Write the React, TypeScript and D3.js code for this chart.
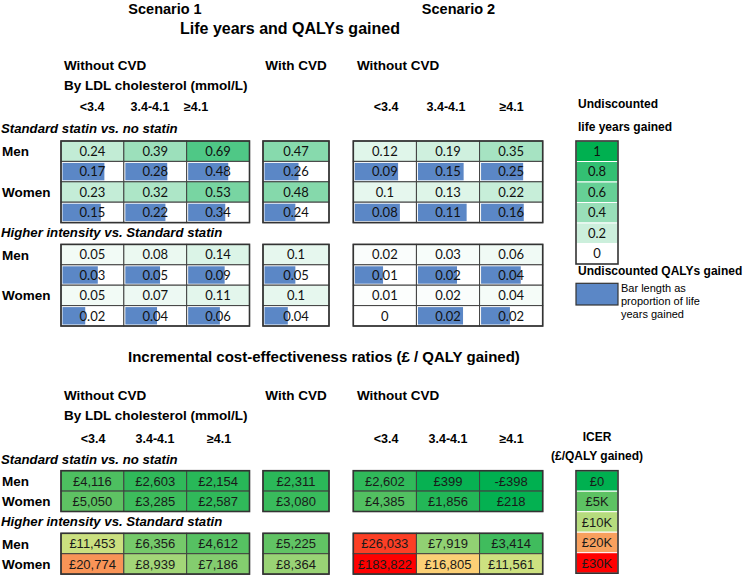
import React from "react";
import * as d3 from "d3";

// ---------- Data ----------
const ldlBands = ["<3.4", "3.4-4.1", "≥4.1"];
const sexes = ["Men", "Women"];
const comparisons = ["Standard statin vs. no statin", "Higher intensity vs. Standard statin"];

// Undiscounted life years gained (rows: Men, Women; columns: LDL bands)
const lyS1Standard = [[0.24, 0.39, 0.69], [0.23, 0.32, 0.53]];
const qalyS1Standard = [[0.17, 0.28, 0.48], [0.15, 0.22, 0.34]];
const barS1Standard = [[0.70, 0.70, 0.67], [0.64, 0.67, 0.62]];
const lyS1Higher = [[0.05, 0.08, 0.14], [0.05, 0.07, 0.11]];
const qalyS1Higher = [[0.03, 0.05, 0.09], [0.02, 0.04, 0.06]];
const barS1Higher = [[0.59, 0.58, 0.61], [0.38, 0.53, 0.53]];

const lyCvdStandard = [[0.47], [0.48]];
const qalyCvdStandard = [[0.26], [0.24]];
const barCvdStandard = [[0.54], [0.49]];
const lyCvdHigher = [[0.1], [0.1]];
const qalyCvdHigher = [[0.05], [0.04]];
const barCvdHigher = [[0.49], [0.37]];

const lyS2Standard = [[0.12, 0.19, 0.35], [0.1, 0.13, 0.22]];
const qalyS2Standard = [[0.09, 0.15, 0.25], [0.08, 0.11, 0.16]];
const barS2Standard = [[0.72, 0.76, 0.70], [0.75, 0.81, 0.71]];
const lyS2Higher = [[0.02, 0.03, 0.06], [0.01, 0.02, 0.04]];
const qalyS2Higher = [[0.01, 0.02, 0.04], [0, 0.02, 0.02]];
const barS2Higher = [[0.47, 0.65, 0.66], [0, 0.75, 0.48]];

// ICER (£ / QALY gained)
const icerS1Standard = [[4116, 2603, 2154], [5050, 3285, 2587]];
const icerS1Higher = [[11453, 6356, 4612], [20774, 8939, 7186]];
const icerCvdStandard = [[2311], [3080]];
const icerCvdHigher = [[5225], [8364]];
const icerS2Standard = [[2602, 399, -398], [4385, 1856, 218]];
const icerS2Higher = [[26033, 7919, 3414], [183822, 16805, 11561]];

const lyLegendValues = [1, 0.8, 0.6, 0.4, 0.2, 0];
const icerLegendValues = [0, 5000, 10000, 20000, 30000];
const icerLegendLabels = ["£0", "£5K", "£10K", "£20K", "£30K"];

// ---------- Scales / styles ----------
const icerStops = [0, 5000, 10000, 15000, 20000, 30000];
const icerColors = ["#00b050", "#5dc263", "#b6dc7e", "#ffeb84", "#f8a05e", "#ff0000"];
const icerColor = d3.scaleLinear<string>().domain(icerStops).range(icerColors).clamp(true);
const lyColor = d3.scaleLinear<string>().domain([0, 1]).range(["#ffffff", "#00b050"]).clamp(true);
const BAR = "#5b87c6";
const GRID = "#404040";
const SANS = "'Liberation Sans', Arial, sans-serif";
const NUM = "Lato, 'Open Sans', sans-serif";

const fmtIcer = (v: number) => (v < 0 ? "-£" : "£") + d3.format(",")(Math.abs(v));

const ROW = 20.4;
const groups = [
  { x: 61, w: 188.5, n: 3 },
  { x: 263, w: 66, n: 1 },
  { x: 353.3, w: 189.4, n: 3 },
];

function LYBlock({ g, top, ly, qaly, bar }: any) {
  const xs = d3.scaleBand<number>().domain(d3.range(g.n)).range([g.x, g.x + g.w]);
  const ys = d3.scaleBand<number>().domain(d3.range(4)).range([top, top + 4 * ROW]);
  const cw = xs.bandwidth();
  const rh = ys.bandwidth();
  const bw = d3.scaleLinear().domain([0, 1]).range([0, cw - 3]);
  const cells: any[] = [];
  sexes.forEach((_, si) => {
    d3.range(g.n).forEach((ci) => {
      const x = xs(ci)!;
      const y1 = ys(si * 2)!;
      const y2 = ys(si * 2 + 1)!;
      cells.push(
        <g key={`${si}-${ci}`}>
          <rect x={x} y={y1} width={cw} height={rh} fill={lyColor(ly[si][ci])} stroke={GRID} strokeWidth={1} />
          <text x={x + cw / 2} y={y1 + rh / 2 + 4.7} textAnchor="middle" fontFamily={NUM} fontSize={13} fill="#111">
            {String(ly[si][ci])}
          </text>
          <rect x={x} y={y2} width={cw} height={rh} fill="#fff" stroke={GRID} strokeWidth={1} />
          <rect x={x + 1.5} y={y2 + 1.5} width={bw(bar[si][ci])} height={rh - 3} fill={BAR} />
          <text x={x + cw / 2} y={y2 + rh / 2 + 4.7} textAnchor="middle" fontFamily={NUM} fontSize={13} fill="#111">
            {String(qaly[si][ci])}
          </text>
        </g>
      );
    });
  });
  return (
    <g>
      {cells}
      <rect x={g.x} y={top} width={g.w} height={4 * ROW} fill="none" stroke="#333" strokeWidth={1.6} />
    </g>
  );
}

function IcerBlock({ g, top, vals }: any) {
  const xs = d3.scaleBand<number>().domain(d3.range(g.n)).range([g.x, g.x + g.w]);
  const ys = d3.scaleBand<number>().domain(d3.range(2)).range([top, top + 2 * ROW]);
  const cw = xs.bandwidth();
  const rh = ys.bandwidth();
  return (
    <g>
      {sexes.map((_, si) =>
        d3.range(g.n).map((ci) => (
          <g key={`${si}-${ci}`}>
            <rect x={xs(ci)} y={ys(si)} width={cw} height={rh} fill={icerColor(vals[si][ci])} stroke={GRID} strokeWidth={1} />
            <text x={xs(ci)! + cw / 2} y={ys(si)! + rh / 2 + 4.6} textAnchor="middle" fontFamily={SANS} fontSize={13} fill="#1a1a1a">
              {fmtIcer(vals[si][ci])}
            </text>
          </g>
        ))
      )}
      <rect x={g.x} y={top} width={g.w} height={2 * ROW} fill="none" stroke="#333" strokeWidth={1.6} />
    </g>
  );
}

const B = (props: any) => (
  <text fontFamily={SANS} fontWeight="bold" fill="#000" {...props} />
);

function SectionHeader({ yWithout, yLdl, yBands, centersS1, centersS2 }: any) {
  return (
    <g>
      <B x={64} y={yWithout} fontSize={13.5}>Without CVD</B>
      <B x={296} y={yWithout} fontSize={13.5} textAnchor="middle">With CVD</B>
      <B x={357} y={yWithout} fontSize={13.5}>Without CVD</B>
      <B x={64} y={yLdl} fontSize={13.5}>By LDL cholesterol (mmol/L)</B>
      {ldlBands.map((b, i) => (
        <B key={"a" + i} x={centersS1[i]} y={yBands} fontSize={12.5} textAnchor="middle">{b}</B>
      ))}
      {ldlBands.map((b, i) => (
        <B key={"b" + i} x={centersS2[i]} y={yBands} fontSize={12.5} textAnchor="middle">{b}</B>
      ))}
    </g>
  );
}

function RowLabels({ top, step, cmpY, cmp }: any) {
  return (
    <g>
      <B x={1} y={cmpY} fontSize={13.2} fontStyle="italic">{cmp}</B>
      {sexes.map((s, i) => (
        <B key={s} x={2} y={top + i * step + ROW / 2 + 5} fontSize={13.5}>{s}</B>
      ))}
    </g>
  );
}

export default function App() {
  const lyTops = [141, 244.4];
  const icerTops = [470.7, 533.3];
  const lyData = [
    [lyS1Standard, qalyS1Standard, barS1Standard, lyCvdStandard, qalyCvdStandard, barCvdStandard, lyS2Standard, qalyS2Standard, barS2Standard],
    [lyS1Higher, qalyS1Higher, barS1Higher, lyCvdHigher, qalyCvdHigher, barCvdHigher, lyS2Higher, qalyS2Higher, barS2Higher],
  ];
  const icerData = [
    [icerS1Standard, icerCvdStandard, icerS2Standard],
    [icerS1Higher, icerCvdHigher, icerS2Higher],
  ];
  const legRow = 20.5;
  const legY = d3.scaleBand<number>().domain(d3.range(lyLegendValues.length)).range([141, 141 + legRow * lyLegendValues.length]);
  const icerLegY = d3.scaleBand<number>().domain(d3.range(icerLegendValues.length)).range([470.7, 470.7 + legRow * icerLegendValues.length]);

  return (
    <svg width={744} height={575} style={{ position: "absolute", left: 0, top: 0, background: "#fff" }}>
      <rect x={0} y={0} width={744} height={575} fill="#fff" />
      <B x={165} y={14} fontSize={14.5} textAnchor="middle">Scenario 1</B>
      <B x={458.5} y={14} fontSize={14.5} textAnchor="middle">Scenario 2</B>
      <B x={180} y={33.5} fontSize={16}>Life years and QALYs gained</B>

      <SectionHeader yWithout={70} yLdl={90} yBands={110.5} centersS1={[92, 150, 196]} centersS2={[386, 446, 511.5]} />
      <RowLabels top={lyTops[0]} step={2 * ROW} cmpY={133} cmp={comparisons[0]} />
      <RowLabels top={lyTops[1]} step={2 * ROW} cmpY={236.7} cmp={comparisons[1]} />

      {lyData.map((d, k) =>
        groups.map((g, gi) => (
          <LYBlock key={`${k}-${gi}`} g={g} top={lyTops[k]} ly={d[gi * 3]} qaly={d[gi * 3 + 1]} bar={d[gi * 3 + 2]} />
        ))
      )}

      {/* LY legend */}
      <B x={578} y={108} fontSize={12}>Undiscounted</B>
      <B x={578} y={130.5} fontSize={12}>life years gained</B>
      {lyLegendValues.map((v, i) => (
        <g key={"l" + i}>
          <rect x={576} y={legY(i)} width={42} height={legY.bandwidth()} fill={lyColor(v)} stroke="#fff" strokeWidth={1} />
          <text x={597} y={legY(i)! + legRow / 2 + 4.7} textAnchor="middle" fontFamily={NUM} fontSize={13} fill="#111">{String(v)}</text>
        </g>
      ))}
      <rect x={576} y={141} width={42} height={legRow * lyLegendValues.length} fill="none" stroke="#333" strokeWidth={1.6} />
      <B x={578} y={275} fontSize={12}>Undiscounted QALYs gained</B>
      <rect x={576} y={283.3} width={42} height={21.7} fill={BAR} stroke="#333" strokeWidth={1.2} />
      <text x={621} y={292} fontFamily={SANS} fontSize={11} fill="#000">Bar length as</text>
      <text x={621} y={305} fontFamily={SANS} fontSize={11} fill="#000">proportion of life</text>
      <text x={621} y={318} fontFamily={SANS} fontSize={11} fill="#000">years gained</text>

      {/* ICER section */}
      <B x={128} y={361.5} fontSize={15}>Incremental cost-effectiveness ratios (£ / QALY gained)</B>
      <SectionHeader yWithout={399.5} yLdl={420} yBands={442.5} centersS1={[93, 155, 219]} centersS2={[386, 448, 511.5]} />
      <RowLabels top={icerTops[0]} step={ROW} cmpY={464} cmp={comparisons[0]} />
      <RowLabels top={icerTops[1]} step={ROW} cmpY={525.5} cmp={comparisons[1]} />
      {icerData.map((d, k) =>
        groups.map((g, gi) => <IcerBlock key={`i${k}-${gi}`} g={g} top={icerTops[k]} vals={d[gi]} />)
      )}

      <B x={597} y={440.5} fontSize={12} textAnchor="middle">ICER</B>
      <B x={597} y={460} fontSize={12} textAnchor="middle">(£/QALY gained)</B>
      {icerLegendValues.map((v, i) => (
        <g key={"il" + i}>
          <rect x={576} y={icerLegY(i)} width={42} height={icerLegY.bandwidth()} fill={icerColor(v)} stroke="#fff" strokeWidth={1} />
          <text x={597} y={icerLegY(i)! + legRow / 2 + 4.6} textAnchor="middle" fontFamily={SANS} fontSize={13} fill="#1a1a1a">{icerLegendLabels[i]}</text>
        </g>
      ))}
      <rect x={576} y={470.7} width={42} height={legRow * icerLegendValues.length} fill="none" stroke="#333" strokeWidth={1.6} />
    </svg>
  );
}
